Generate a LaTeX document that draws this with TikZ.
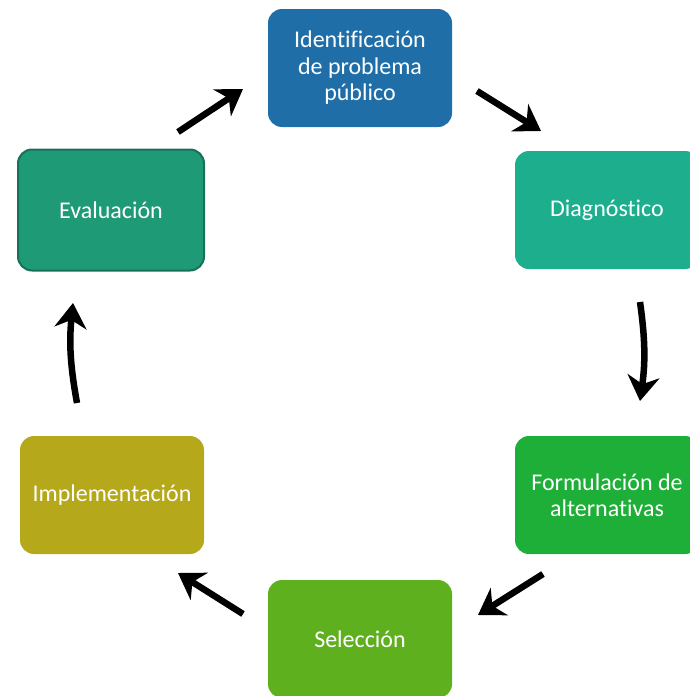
\documentclass[tikz,border=0pt]{standalone}
\usepackage{fontspec}
\setmainfont[Ligatures=NoCommon]{Carlito}
\usetikzlibrary{arrows.meta,positioning}
\definecolor{identblue}{HTML}{1F6EA8}
\definecolor{diagteal}{HTML}{1DAE8E}
\definecolor{formgreen}{HTML}{1EAF38}
\definecolor{selgreen}{HTML}{5FB01E}
\definecolor{implolive}{HTML}{B5A81B}
\definecolor{evalgreen}{HTML}{1F9A77}
\definecolor{evalborder}{HTML}{17705A}
\tikzset{
  stagebox/.style args={#1}{
  rectangle,
  rounded corners=14pt,
  fill=#1,
  text=white,
  align=center,
  minimum width=184pt,
  minimum height=118pt,
  inner sep=0pt,
  font=\fontsize{24}{26.5}\selectfont
  },
  flow/.style={line width=6.5pt,
  -{Stealth[length=25pt,width=32pt,inset=8pt]}}
}
\begin{document}
\begin{tikzpicture}[x=1pt,y=-1pt]
  \useasboundingbox (0,0) rectangle (690,696);
  \clip (0,0) rectangle (690,696);

  \node[stagebox=identblue] (ident) at (360,68) {Identificación\\de problema\\público};
  \node[stagebox=diagteal] (diag) at (607,210) {Diagnóstico};
  \node[stagebox=formgreen] (form) at (607,495) {Formulación de\\alternativas};
  \node[stagebox=selgreen] (sel) at (360,639) {Selección};
  \node[stagebox=implolive] (impl) at (112,495) {Implementación};
  \node[stagebox=evalgreen,draw=evalborder,line width=2pt,
        minimum width=186pt,minimum height=121pt] (eval) at (111,210) {Evaluación};

  % arrow ends
  \coordinate (a1s) at (178,132);  \coordinate (a1e) at (243,89);
  \coordinate (a2s) at (477,91);   \coordinate (a2e) at (541,131);
  \coordinate (a3s) at (640,302);  \coordinate (a3e) at (640,401);
  \coordinate (a4s) at (543,574);  \coordinate (a4e) at (478,615);
  \coordinate (a5s) at (243,614);  \coordinate (a5e) at (178,573);
  \coordinate (a6s) at (77,403);   \coordinate (a6e) at (73,303);

  \path (a1s) edge[flow] (a1e)
        (a2s) edge[flow] (a2e)
        (a3s) edge[flow,bend left=8] (a3e)
        (a4s) edge[flow] (a4e)
        (a5s) edge[flow] (a5e)
        (a6s) edge[flow,bend left=8] (a6e);
\end{tikzpicture}
\end{document}
